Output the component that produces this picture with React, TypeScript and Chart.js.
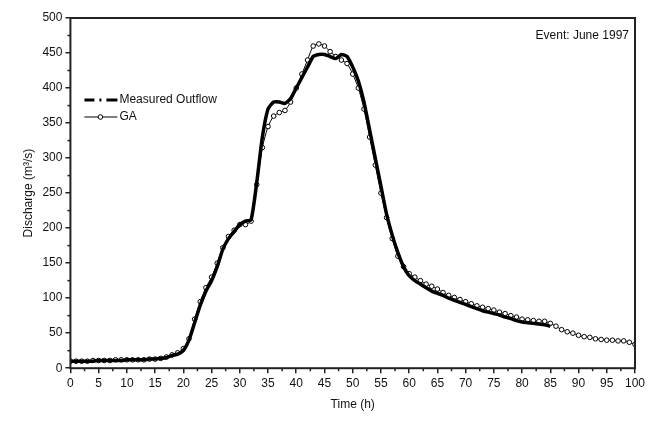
import React, { useEffect, useRef } from "react";
import { Chart, registerables } from "chart.js";
Chart.register(...registerables);

const hours = Array.from({ length: 101 }, (_, i) => i);
const measured = [10,10,10,10,10,11,11,11,11,11,12,12,12,12,13,13,14,15,18,20,25,40,65,90,110,125,145,170,185,195,205,210,212,265,330,370,380,380,378,385,400,415,430,445,448,448,445,442,448,445,430,410,380,340,300,260,220,190,165,145,132,125,120,115,110,107,104,100,97,94,91,88,85,82,80,78,76,73,71,68,66,65,64,63,62,60];
const ga = [10,10,10,10,11,11,11,11,12,12,12,12,12,12,13,13,14,16,19,22,28,42,70,95,115,130,150,172,188,197,205,205,210,262,315,345,360,365,368,380,400,420,440,460,463,460,452,445,440,435,420,400,370,330,290,250,215,185,160,145,135,130,125,120,117,113,108,104,101,98,95,92,89,87,85,83,80,78,75,73,70,69,68,67,67,64,60,55,52,50,47,45,44,42,41,40,40,39,39,37,34];
const xTicks = [0,5,10,15,20,25,30,35,40,45,50,55,60,65,70,75,80,85,90,95,100];
const yTicks = [0,50,100,150,200,250,300,350,400,450,500];

const font = "Liberation Sans, Arial, sans-serif";

const deco = {
  id: "deco",
  afterDraw(c: any) {
    const { ctx, chartArea: a, scales } = c;
    const x = scales.x, y = scales.y;
    ctx.save();
    ctx.strokeStyle = "#222"; ctx.lineWidth = 2;
    ctx.strokeRect(a.left, a.top, a.right - a.left, a.bottom - a.top);
    ctx.lineWidth = 1.5;
    for (let v = 2.5; v < 100; v += 5) { const px = x.getPixelForValue(v); ctx.beginPath(); ctx.moveTo(px, a.bottom); ctx.lineTo(px, a.bottom + 3); ctx.stroke(); }
    for (let v = 25; v < 500; v += 50) { const py = y.getPixelForValue(v); ctx.beginPath(); ctx.moveTo(a.left, py); ctx.lineTo(a.left - 3, py); ctx.stroke(); }
    ctx.fillStyle = "#111"; ctx.font = `12px ${font}`; ctx.textAlign = "right"; ctx.textBaseline = "middle";
    ctx.fillText("Event: June 1997", a.right - 6, a.top + 18);
    ctx.textAlign = "left";
    const lx = a.left + 14, ly1 = a.top + 82, ly2 = a.top + 99;
    ctx.lineWidth = 3; ctx.strokeStyle = "#000";
    ctx.beginPath(); ctx.moveTo(lx, ly1); ctx.lineTo(lx + 10, ly1); ctx.moveTo(lx + 15, ly1); ctx.lineTo(lx + 17, ly1); ctx.moveTo(lx + 22, ly1); ctx.lineTo(lx + 33, ly1); ctx.stroke();
    ctx.lineWidth = 1;
    ctx.beginPath(); ctx.moveTo(lx, ly2); ctx.lineTo(lx + 33, ly2); ctx.stroke();
    ctx.fillStyle = "#fff"; ctx.beginPath(); ctx.arc(lx + 16, ly2, 2.3, 0, Math.PI * 2); ctx.fill(); ctx.stroke();
    ctx.fillStyle = "#111";
    ctx.fillText("Measured Outflow", lx + 35, ly1);
    ctx.fillText("GA", lx + 35, ly2);
    ctx.restore();
  },
};

export default function App() {
  const ref = useRef<HTMLCanvasElement>(null);
  useEffect(() => {
    document.body.style.margin = "0";
    const chart = new Chart(ref.current!, {
      type: "line",
      data: {
        datasets: [
          { label: "Measured Outflow", data: measured.map((v, i) => ({ x: hours[i], y: v })), borderColor: "#000", borderWidth: 3.5, pointRadius: 0, tension: 0.2 },
          { label: "GA", data: ga.map((v, i) => ({ x: hours[i], y: v })), borderColor: "#000", borderWidth: 1, pointRadius: 2.3, pointBackgroundColor: "#fff", pointBorderColor: "#000", pointBorderWidth: 1, tension: 0.2 },
        ],
      },
      options: {
        animation: false, responsive: false,
        layout: { padding: { top: 18, right: 10, left: 17, bottom: 9 } },
        plugins: { legend: { display: false }, tooltip: { enabled: false } },
        scales: {
          x: {
            type: "linear", min: 0, max: 100,
            afterBuildTicks: (s: any) => { s.ticks = xTicks.map((v) => ({ value: v })); },
            grid: { drawOnChartArea: false, tickLength: 5, color: "#222", lineWidth: 1.5 },
            border: { display: false },
            ticks: { color: "#111", font: { family: font, size: 12 }, maxRotation: 0 },
            title: { display: true, text: "Time (h)", color: "#111", font: { family: font, size: 12 } },
          },
          y: {
            min: 0, max: 500,
            afterBuildTicks: (s: any) => { s.ticks = yTicks.map((v) => ({ value: v })); },
            grid: { drawOnChartArea: false, tickLength: 5, color: "#222", lineWidth: 1.5 },
            border: { display: false },
            ticks: { color: "#111", font: { family: font, size: 12 } },
            title: { display: true, text: "Discharge (m³/s)", color: "#111", font: { family: font, size: 12 } },
          },
        },
      },
      plugins: [deco],
    } as any);
    return () => chart.destroy();
  }, []);
  return <div style={{ width: 648, height: 425 }}><canvas ref={ref} width={648} height={425} /></div>;
}
